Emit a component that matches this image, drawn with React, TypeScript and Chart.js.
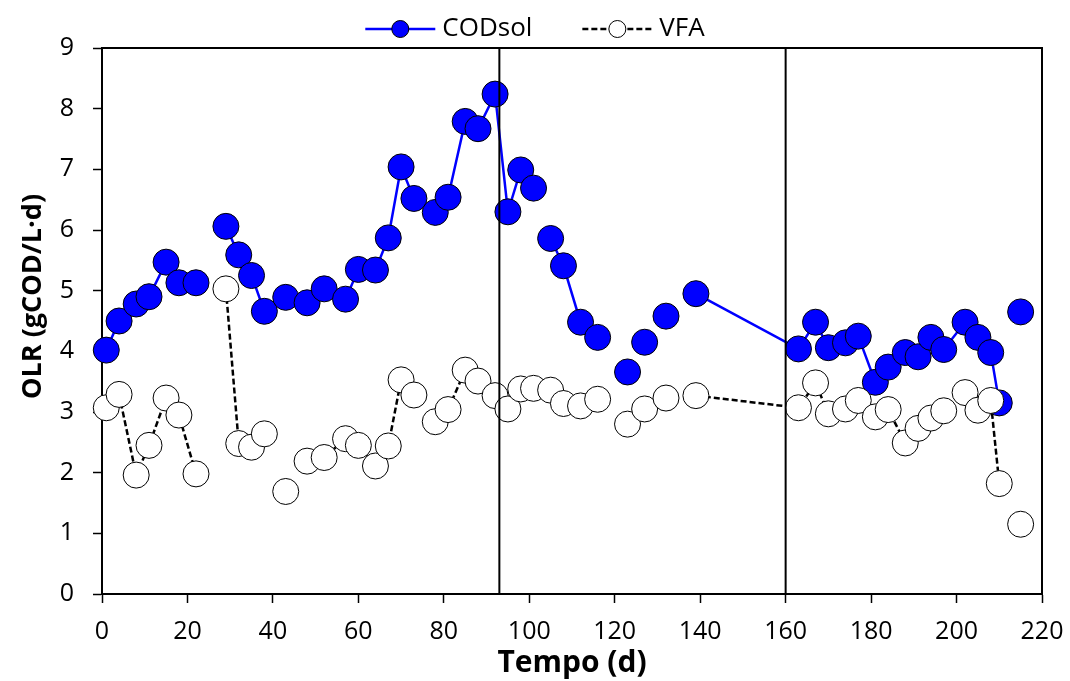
import React, { useEffect, useRef } from 'react';
import { Chart, registerables } from 'chart.js';

Chart.register(...registerables);

// ---- data ----
const days = [
  1, 4, 8, 11, 15, 18, 22, 29, 32, 35, 38, 43, 48, 52, 57, 60, 64, 67, 70, 73, 78, 81, 85, 88, 92,
  95, 98, 101, 105, 108, 112, 116, 123, 127, 132, 139, 163, 167, 170, 174, 177, 181, 184, 188, 191,
  194, 197, 202, 205, 208, 210, 215,
];
const codsol = [
  4.02, 4.5, 4.78, 4.9, 5.47, 5.13, 5.13, 6.06, 5.59, 5.25, 4.66, 4.89, 4.8, 5.03, 4.86, 5.35, 5.34,
  5.87, 7.04, 6.52, 6.29, 6.54, 7.79, 7.67, 8.24, 6.3, 6.99, 6.69, 5.86, 5.41, 4.48, 4.23, 3.66, 4.15,
  4.58, 4.95, 4.04, 4.48, 4.06, 4.14, 4.25, 3.49, 3.74, 3.98, 3.91, 4.23, 4.03, 4.48, 4.23, 3.98, 3.15,
  4.65,
];
const vfa = [
  3.07, 3.29, 1.96, 2.45, 3.23, 2.95, 1.98, 5.03, 2.48, 2.42, 2.64, 1.69, 2.19, 2.25, 2.56, 2.45, 2.11,
  2.44, 3.53, 3.28, 2.84, 3.04, 3.69, 3.51, 3.27, 3.05, 3.38, 3.39, 3.36, 3.14, 3.1, 3.21, 2.8, 3.05,
  3.23, 3.27, 3.07, 3.48, 2.97, 3.05, 3.19, 2.92, 3.04, 2.49, 2.73, 2.9, 3.02, 3.32, 3.03, 3.19, 1.82,
  1.15,
];
// days where the connecting line is interrupted (blank cells in the source sheet)
const codBreaks = [25, 103, 119, 125, 130, 135, 212];
const vfaBreaks = [25, 40, 45, 75, 119, 125, 130, 135, 212];
const phaseDays = [93, 160];
const xTicks = [0, 20, 40, 60, 80, 100, 120, 140, 160, 180, 200, 220];
const yTicks = [0, 1, 2, 3, 4, 5, 6, 7, 8, 9];
const seriesLabels = ['CODsol', 'VFA'];
const xTitle = 'Tempo (d)';
const yTitle = 'OLR (gCOD/L·d)';

const FONT = '"Open Sans", "Noto Sans", sans-serif';

function buildPoints(values: number[], breaks: number[]) {
  const pts: { x: number; y: number | null }[] = days.map((d, i) => ({ x: d, y: values[i] }));
  breaks.forEach((b) => pts.push({ x: b, y: null }));
  return pts.sort((a, b) => a.x - b.x);
}

const framePlugin = {
  id: 'frameAndPhases',
  afterDatasetsDraw(chart: any) {
    const { ctx, chartArea, scales } = chart;
    ctx.save();
    ctx.strokeStyle = '#000';
    ctx.lineWidth = 2;
    ctx.beginPath();
    ctx.moveTo(chartArea.left, chartArea.top);
    ctx.lineTo(chartArea.right, chartArea.top);
    ctx.lineTo(chartArea.right, chartArea.bottom);
    ctx.stroke();
    phaseDays.forEach((d) => {
      const x = scales.x.getPixelForValue(d);
      ctx.beginPath();
      ctx.moveTo(x, chartArea.top);
      ctx.lineTo(x, chartArea.bottom);
      ctx.stroke();
    });
    ctx.restore();
  },
};

const legendPlugin = {
  id: 'lineMarkerLegend',
  afterDraw(chart: any) {
    const { ctx } = chart;
    const ds = chart.data.datasets;
    ctx.save();
    ctx.font = `26px ${FONT}`;
    const symW = 70;
    const gapText = 7;
    const gapItem = 50;
    const widths = ds.map((d: any) => symW + gapText + ctx.measureText(d.label).width);
    const total = widths.reduce((a: number, b: number) => a + b, 0) + gapItem * (ds.length - 1);
    let x = chart.width / 2 - total / 2;
    const y = 29;
    ds.forEach((d: any, i: number) => {
      ctx.strokeStyle = d.borderColor;
      ctx.lineWidth = 2.5;
      ctx.setLineDash(d.borderDash || []);
      ctx.beginPath();
      ctx.moveTo(x, y);
      ctx.lineTo(x + symW, y);
      ctx.stroke();
      ctx.setLineDash([]);
      ctx.beginPath();
      ctx.arc(x + symW / 2, y, 8.5, 0, Math.PI * 2);
      ctx.fillStyle = d.pointBackgroundColor;
      ctx.fill();
      ctx.strokeStyle = '#000';
      ctx.lineWidth = 1;
      ctx.stroke();
      ctx.fillStyle = '#000';
      ctx.textAlign = 'left';
      ctx.textBaseline = 'middle';
      ctx.fillText(d.label, x + symW + gapText, y);
      x += widths[i] + gapItem;
    });
    ctx.restore();
  },
};

export default function App() {
  const ref = useRef<HTMLCanvasElement>(null);

  useEffect(() => {
    if (!ref.current) return;
    const chart = new Chart(ref.current, {
      type: 'line',
      data: {
        datasets: [
          {
            label: seriesLabels[0],
            data: buildPoints(codsol, codBreaks) as any,
            borderColor: '#0000FF',
            borderWidth: 2.5,
            pointRadius: 13,
            pointHoverRadius: 13,
            pointBackgroundColor: '#0000FF',
            pointBorderColor: '#000',
            pointBorderWidth: 1,
            spanGaps: false,
            clip: false as any,
            order: 1,
          },
          {
            label: seriesLabels[1],
            data: buildPoints(vfa, vfaBreaks) as any,
            borderColor: '#000',
            borderWidth: 2.5,
            borderDash: [6, 3],
            pointRadius: 13,
            pointHoverRadius: 13,
            pointBackgroundColor: '#FFFFFF',
            pointBorderColor: '#000',
            pointBorderWidth: 1,
            spanGaps: false,
            clip: false as any,
            order: 0,
          },
        ],
      },
      options: {
        animation: false,
        responsive: true,
        maintainAspectRatio: false,
        layout: { padding: { top: 48, right: 28, bottom: 0, left: 0 } },
        plugins: {
          legend: { display: false },
          tooltip: { enabled: false },
        },
        scales: {
          x: {
            type: 'linear',
            min: xTicks[0],
            max: xTicks[xTicks.length - 1],
            afterBuildTicks: (s: any) => {
              s.ticks = xTicks.map((v) => ({ value: v }));
            },
            afterFit: (s: any) => {
              s.height = 87;
              s.paddingLeft = 0;
              s.paddingRight = 0;
            },
            ticks: {
              font: { family: FONT, size: 25 },
              color: '#000',
              padding: 14,
              maxRotation: 0,
              autoSkip: false,
            },
            grid: {
              drawOnChartArea: false,
              drawTicks: true,
              tickLength: 9,
              tickColor: '#000',
              tickWidth: 1.5,
            },
            border: { display: true, color: '#000', width: 2 },
            title: {
              display: true,
              text: xTitle,
              font: { family: FONT, size: 30, weight: 'bold' },
              color: '#000',
              padding: { top: 0, bottom: 0 },
            },
          },
          y: {
            type: 'linear',
            min: yTicks[0],
            max: yTicks[yTicks.length - 1],
            afterBuildTicks: (s: any) => {
              s.ticks = yTicks.map((v) => ({ value: v }));
            },
            afterFit: (s: any) => {
              s.width = 102;
              s.paddingTop = 0;
              s.paddingBottom = 0;
            },
            ticks: {
              font: { family: FONT, size: 25 },
              color: '#000',
              padding: 19,
            },
            grid: {
              drawOnChartArea: false,
              drawTicks: true,
              tickLength: 9,
              tickColor: '#000',
              tickWidth: 1.5,
            },
            border: { display: true, color: '#000', width: 2 },
            title: {
              display: true,
              text: '       ' + yTitle,
              font: { family: FONT, size: 27, weight: 'bold' },
              color: '#000',
              padding: { top: 17, bottom: 0 },
            },
          },
        },
      },
      plugins: [framePlugin, legendPlugin],
    });
    return () => chart.destroy();
  }, []);

  return (
    <div
      style={{
        position: 'fixed',
        left: 0,
        top: 0,
        width: 1070,
        height: 681,
        background: '#fff',
      }}
    >
      <canvas ref={ref} />
    </div>
  );
}
